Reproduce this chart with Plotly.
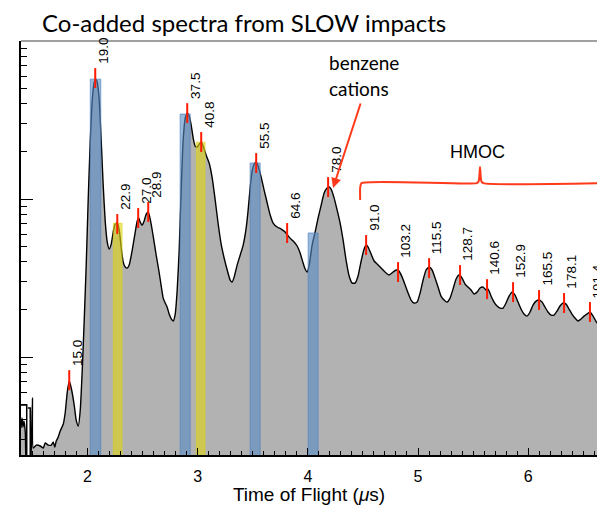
import numpy as np
import plotly.graph_objects as go

# ---------------- data ----------------
# Co-added spectrum: time of flight (microseconds) and log10 of intensity (arb. units)
tof_us = [1.396, 1.405, 1.414, 1.423, 1.435, 1.448, 1.480, 1.489, 1.500, 1.507,
          1.535, 1.571, 1.598, 1.616, 1.643, 1.671, 1.689, 1.702, 1.716, 1.734,
          1.752, 1.780, 1.798, 1.816, 1.834, 1.852, 1.879, 1.897, 1.916, 1.934,
          1.952, 1.970, 1.988, 2.006, 2.025, 2.043, 2.061, 2.074, 2.088, 2.106,
          2.124, 2.142, 2.161, 2.179, 2.197, 2.215, 2.233, 2.251, 2.270, 2.288,
          2.306, 2.324, 2.342, 2.360, 2.378, 2.406, 2.433, 2.451, 2.465, 2.478,
          2.496, 2.514, 2.533, 2.551, 2.569, 2.596, 2.623, 2.651, 2.669, 2.687,
          2.705, 2.723, 2.741, 2.760, 2.778, 2.796, 2.814, 2.832, 2.850, 2.868,
          2.887, 2.905, 2.923, 2.941, 2.959, 2.977, 2.995, 3.014, 3.032, 3.050,
          3.077, 3.104, 3.132, 3.159, 3.186, 3.213, 3.240, 3.268, 3.295, 3.313,
          3.331, 3.358, 3.386, 3.413, 3.440, 3.458, 3.476, 3.494, 3.513, 3.531,
          3.549, 3.576, 3.603, 3.631, 3.658, 3.685, 3.721, 3.758, 3.794, 3.830,
          3.867, 3.903, 3.930, 3.957, 3.975, 3.994, 4.012, 4.039, 4.066, 4.093,
          4.121, 4.148, 4.175, 4.193, 4.211, 4.239, 4.266, 4.293, 4.320, 4.347,
          4.375, 4.402, 4.429, 4.456, 4.484, 4.511, 4.529, 4.547, 4.574, 4.602,
          4.629, 4.665, 4.701, 4.738, 4.774, 4.801, 4.828, 4.856, 4.883, 4.910,
          4.937, 4.964, 4.992, 5.019, 5.046, 5.073, 5.101, 5.128, 5.155, 5.182,
          5.209, 5.237, 5.264, 5.291, 5.318, 5.346, 5.373, 5.400, 5.427, 5.454,
          5.482, 5.509, 5.536, 5.563, 5.591, 5.618, 5.636, 5.663, 5.690, 5.718,
          5.745, 5.772, 5.799, 5.827, 5.854, 5.881, 5.908, 5.935, 5.963, 5.990,
          6.017, 6.044, 6.072, 6.099, 6.126, 6.153, 6.180, 6.208, 6.235, 6.262,
          6.289, 6.317, 6.344, 6.371, 6.398, 6.425, 6.453, 6.480, 6.507, 6.534,
          6.561, 6.589, 6.625]
log_intensity = [-0.449, -0.386, -0.443, -0.405, -0.475, -0.684, -0.684, -0.582, -0.259, -0.576,
                 -0.557, -0.563, -0.576, -0.544, -0.557, -0.557, -0.538, -0.570, -0.532, -0.506,
                 -0.468, -0.424, -0.348, -0.222, -0.152, -0.196, -0.304, -0.399, -0.437, -0.335,
                 -0.082, 0.234, 0.582, 0.994, 1.373, 1.627, 1.741, 1.759, 1.741, 1.627,
                 1.373, 1.089, 0.854, 0.728, 0.684, 0.715, 0.791, 0.842, 0.848, 0.804,
                 0.690, 0.601, 0.570, 0.563, 0.582, 0.677, 0.791, 0.861, 0.880, 0.854,
                 0.835, 0.861, 0.905, 0.918, 0.873, 0.766, 0.646, 0.532, 0.449, 0.373,
                 0.342, 0.316, 0.272, 0.241, 0.228, 0.272, 0.424, 0.677, 1.057, 1.373,
                 1.513, 1.544, 1.525, 1.468, 1.386, 1.335, 1.329, 1.348, 1.361, 1.335,
                 1.278, 1.228, 1.133, 0.994, 0.842, 0.715, 0.627, 0.551, 0.487, 0.475,
                 0.506, 0.582, 0.646, 0.709, 0.816, 0.930, 1.070, 1.177, 1.222, 1.234,
                 1.209, 1.139, 1.057, 0.975, 0.899, 0.848, 0.823, 0.810, 0.791, 0.759,
                 0.734, 0.703, 0.658, 0.595, 0.557, 0.538, 0.582, 0.709, 0.791, 0.880,
                 0.962, 1.038, 1.070, 1.076, 1.063, 1.006, 0.930, 0.848, 0.741, 0.614,
                 0.513, 0.468, 0.468, 0.513, 0.608, 0.684, 0.709, 0.696, 0.652, 0.608,
                 0.589, 0.563, 0.538, 0.519, 0.538, 0.551, 0.544, 0.506, 0.456, 0.405,
                 0.361, 0.342, 0.348, 0.405, 0.487, 0.551, 0.570, 0.551, 0.500, 0.443,
                 0.386, 0.361, 0.348, 0.373, 0.430, 0.494, 0.519, 0.500, 0.462, 0.443,
                 0.424, 0.399, 0.411, 0.437, 0.443, 0.424, 0.430, 0.386, 0.348, 0.323,
                 0.310, 0.310, 0.342, 0.386, 0.411, 0.392, 0.348, 0.304, 0.272, 0.259,
                 0.285, 0.329, 0.354, 0.361, 0.348, 0.316, 0.285, 0.266, 0.266, 0.291,
                 0.323, 0.342, 0.335, 0.304, 0.272, 0.247, 0.228, 0.241, 0.259, 0.272,
                 0.285, 0.259, 0.215]

# raw start-of-record glitch outline
glitch_tof = [1.396, 1.448, 1.448, None, 1.457, 1.480, 1.480]
glitch_log = [-0.304, -0.304, -0.652, None, -0.323, -0.323, -0.652]

# labelled peaks (mass labels), position of each red marker
peak_labels = ["15.0", "19.0", "22.9", "27.0", "28.9", "37.5", "40.8", "55.5", "64.6", "78.0",
               "91.0", "103.2", "115.5", "128.7", "140.6", "152.9", "165.5", "178.1", "191.4"]
peak_tof = [1.834, 2.070, 2.270, 2.460, 2.551, 2.905, 3.032, 3.531, 3.812, 4.184,
            4.529, 4.819, 5.101, 5.382, 5.627, 5.863, 6.099, 6.326, 6.561]
peak_log = [-0.146, 1.766, 0.842, 0.880, 0.918, 1.544, 1.361, 1.228, 0.785, 1.076,
            0.709, 0.538, 0.563, 0.519, 0.430, 0.411, 0.361, 0.342, 0.285]

# highlighted windows: (start, end, log top)
blue_start = [2.025, 2.841, 3.476, 4.003]
blue_end = [2.120, 2.932, 3.567, 4.093]
blue_top = [1.759, 1.538, 1.228, 0.785]
yellow_start = [2.233, 2.986]
yellow_end = [2.315, 3.068]
yellow_top = [0.848, 1.361]

# HMOC bracket (time span and log level)
hmoc_start, hmoc_mid, hmoc_end = 4.475, 5.563, 6.700
hmoc_level, hmoc_foot, hmoc_tip = 1.101, 0.994, 1.203

x_ticks = [2, 3, 4, 5, 6]
x_range = [1.396, 6.625]
y_log_range = [-0.62, 2.0005]

# ---------------- figure ----------------
FLOOR = 0.05
LBL_FONT = "Liberation Sans, Arial, sans-serif"
TXT_FONT = "Lato, Open Sans, sans-serif"
RED = "#ff1a00"
ORANGE_RED = "#ff3a1a"
TICK_HALF = 0.063

intensity = 10 ** np.array(log_intensity)

fig = go.Figure()

# baseline for fill
fig.add_trace(go.Scatter(x=[tof_us[0], tof_us[-1]], y=[FLOOR, FLOOR], mode="lines",
                         line=dict(width=0), hoverinfo="skip", showlegend=False))
fig.add_trace(go.Scatter(x=tof_us, y=intensity, mode="lines", fill="tonexty",
                         fillcolor="#b2b2b2", line=dict(color="black", width=1.4, shape="spline", smoothing=0.5),
                         showlegend=False))

gy = [None if v is None else 10 ** v for v in glitch_log]
fig.add_trace(go.Scatter(x=glitch_tof, y=gy, mode="lines", line=dict(color="black", width=1.5),
                         showlegend=False))

def add_windows(starts, ends, tops, fill, edge):
    for a, b, top in zip(starts, ends, tops):
        fig.add_trace(go.Scatter(x=[a, a, b, b, a], y=[FLOOR, 10 ** top, 10 ** top, FLOOR, FLOOR],
                                 mode="lines", fill="toself", fillcolor=fill,
                                 line=dict(color=edge, width=1), showlegend=False, hoverinfo="skip"))

add_windows(blue_start, blue_end, blue_top, "rgba(85,140,196,0.6)", "rgba(85,130,190,0.7)")
add_windows(yellow_start, yellow_end, yellow_top, "rgba(222,212,20,0.62)", "rgba(222,212,20,0.4)")

# red peak markers
mx, my = [], []
for t, L in zip(peak_tof, peak_log):
    mx += [t, t, None]
    my += [10 ** (L - TICK_HALF), 10 ** (L + TICK_HALF), None]
fig.add_trace(go.Scatter(x=mx, y=my, mode="lines", line=dict(color=RED, width=2),
                         showlegend=False, hoverinfo="skip"))

# HMOC bracket
bx = [hmoc_start, hmoc_start, hmoc_start + 0.012, hmoc_mid - 0.03, hmoc_mid - 0.012, hmoc_mid,
      hmoc_mid + 0.012, hmoc_mid + 0.03, hmoc_end]
bl = [hmoc_foot, hmoc_level - 0.03, hmoc_level, hmoc_level, hmoc_level + 0.012, hmoc_tip,
      hmoc_level + 0.012, hmoc_level, hmoc_level]
fig.add_trace(go.Scatter(x=bx, y=[10 ** v for v in bl], mode="lines",
                         line=dict(color=ORANGE_RED, width=2, shape="spline", smoothing=0.6),
                         showlegend=False, hoverinfo="skip"))

annotations = []
for lab, t, L in zip(peak_labels, peak_tof, peak_log):
    annotations.append(dict(x=t, y=L + TICK_HALF, xref="x", yref="y", text=lab, showarrow=False,
                            textangle=-90, xanchor="left", yanchor="bottom", xshift=-2, yshift=2,
                            font=dict(family=LBL_FONT, size=13.5, color="black")))

annotations.append(dict(x=4.175, y=1.867, xref="x", yref="y", text="benzene", showarrow=False,
                        xanchor="left", yanchor="middle", font=dict(family=TXT_FONT, size=19, color="black")))
annotations.append(dict(x=4.175, y=1.703, xref="x", yref="y", text="cations", showarrow=False,
                        xanchor="left", yanchor="middle", font=dict(family=TXT_FONT, size=19, color="black")))
annotations.append(dict(x=4.229, y=1.070, xref="x", yref="y", text="", showarrow=True,
                        ax=28, ay=-86, arrowcolor=ORANGE_RED, arrowwidth=2, arrowhead=2, arrowsize=1))
annotations.append(dict(x=5.536, y=1.297, xref="x", yref="y", text="HMOC", showarrow=False,
                        xanchor="center", yanchor="middle", font=dict(family=LBL_FONT, size=18, color="black")))

fig.update_layout(
    width=597, height=505,
    margin=dict(l=21, r=0, t=41, b=50),
    paper_bgcolor="white", plot_bgcolor="white",
    title=dict(text="Co-added spectra from SLOW impacts", x=42 / 597, xanchor="left",
               y=1 - 24 / 505, yanchor="middle", yref="container",
               font=dict(family=TXT_FONT, size=24, color="black")),
    annotations=annotations,
    shapes=[dict(type="line", xref="paper", yref="paper", x0=0, x1=1, y0=1, y1=1,
                 line=dict(color="#808080", width=1.5))],
    showlegend=False,
)

fig.update_xaxes(range=x_range, tickvals=x_ticks, ticks="inside", ticklen=7, tickwidth=1,
                 tickcolor="black", showline=True, linecolor="black", linewidth=1.5,
                 showgrid=False, zeroline=False, ticklabelstandoff=6,
                 tickfont=dict(family=LBL_FONT, size=16, color="black"),
                 minor=dict(dtick=0.1, ticks="inside", ticklen=4, tickcolor="black", showgrid=False),
                 title=dict(text="Time of Flight (<i>μ</i>s)", standoff=5,
                            font=dict(family=LBL_FONT, size=19, color="black")))

major_y = [0.1, 1, 10, 100]
minor_y = [k * m for m in [0.1, 1, 10] for k in range(2, 10)]
fig.update_yaxes(type="log", range=y_log_range, tickvals=major_y, showticklabels=False,
                 ticks="inside", ticklen=12, tickwidth=1.2, tickcolor="black",
                 showline=True, linecolor="black", linewidth=1.5, showgrid=False, zeroline=False,
                 minor=dict(tickvals=minor_y, ticks="inside", ticklen=6, tickcolor="black", showgrid=False))

fig.write_html("out.html", config={"displayModeBar": False},
               post_script="document.body.style.margin='0';document.body.style.overflow='hidden';")
